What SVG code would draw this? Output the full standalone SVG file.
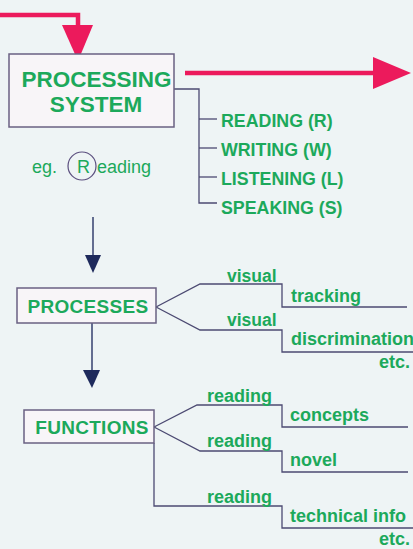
<svg xmlns="http://www.w3.org/2000/svg" width="413" height="549" viewBox="0 0 413 549">
<style>
.t{font-family:"Liberation Sans",Arial,sans-serif;font-weight:bold;fill:#1ca95b}
.n{font-family:"Liberation Sans",Arial,sans-serif;fill:#1ca95b}
.box{fill:#f8f5f8;stroke:#6a6082;stroke-width:1.5}
.ln{fill:none;stroke:#4c4a72;stroke-width:1.3}
.pk{fill:none;stroke:#ec1a5c;stroke-width:4.5}
.nv{fill:none;stroke:#34406e;stroke-width:1.5}
</style>
<rect width="413" height="549" fill="#eef4f5"/>
<g id="connectors">
  <polyline class="pk" points="0,15 78,15 78,27"/>
  <polygon points="62,25 93,25 78,61" fill="#ec1a5c"/>
  <line class="pk" x1="185" y1="73" x2="378" y2="73"/>
  <polygon points="373,57 411,73 373,89" fill="#ec1a5c"/>
  <polyline class="ln" points="174,89 199,89 199,203 217,203"/>
  <line class="ln" x1="199" y1="119" x2="217" y2="119"/>
  <line class="ln" x1="199" y1="148" x2="217" y2="148"/>
  <line class="ln" x1="199" y1="177" x2="217" y2="177"/>
  <line class="nv" x1="93" y1="217" x2="93" y2="258"/>
  <polygon points="85,255 101,255 93,273" fill="#1e2a5c"/>
  <line class="nv" x1="92" y1="323" x2="92" y2="372"/>
  <polygon points="83,370 100,370 92,388" fill="#1e2a5c"/>
  <polyline class="ln" points="156,307 200,284 282,284 282,307 407,307"/>
  <polyline class="ln" points="156,307 200,330 282,330 282,352 413,352"/>
  <polyline class="ln" points="154,427 197,405 282,405 282,427 408,427"/>
  <polyline class="ln" points="154,427 200,451 282,451 282,472 408,472"/>
  <polyline class="ln" points="154,443 154,506 282,506 282,528 413,528"/>
</g>
<g id="processing-system">
  <rect class="box" x="9" y="54" width="165" height="73"/>
  <text class="t" x="96.5" y="87" font-size="22.5" text-anchor="middle">PROCESSING</text>
  <text class="t" x="96" y="112" font-size="22.5" text-anchor="middle">SYSTEM</text>
</g>
<g id="skills">
  <text class="t" x="221" y="127" font-size="17.8">READING (R)</text>
  <text class="t" x="221" y="156" font-size="17.8">WRITING (W)</text>
  <text class="t" x="221" y="185" font-size="17.8">LISTENING (L)</text>
  <text class="t" x="221" y="214" font-size="17.8">SPEAKING (S)</text>
</g>
<g id="example">
  <text class="n" x="32" y="173" font-size="18">eg.</text>
  <circle cx="82" cy="166" r="14" fill="none" stroke="#5a4e7e" stroke-width="1.2"/>
  <text class="n" x="77" y="173" font-size="18">R</text>
  <text class="n" x="97" y="173" font-size="18">eading</text>
</g>
<g id="processes">
  <rect class="box" x="17" y="288" width="139" height="35"/>
  <text class="t" x="88" y="313" font-size="19" letter-spacing="0.3" text-anchor="middle">PROCESSES</text>
</g>
<g id="process-items">
  <text class="t" x="227" y="282" font-size="17.5">visual</text>
  <text class="t" x="291" y="302" font-size="18">tracking</text>
  <text class="t" x="227" y="326" font-size="17.5">visual</text>
  <text class="t" x="291" y="345" font-size="18">discrimination</text>
  <text class="t" x="379" y="368" font-size="18">etc.</text>
</g>
<g id="functions">
  <rect class="box" x="24" y="410" width="130" height="33"/>
  <text class="t" x="92" y="434" font-size="19" letter-spacing="0.3" text-anchor="middle">FUNCTIONS</text>
</g>
<g id="function-items">
  <text class="t" x="207" y="402" font-size="18">reading</text>
  <text class="t" x="290" y="421" font-size="18">concepts</text>
  <text class="t" x="207" y="447" font-size="18">reading</text>
  <text class="t" x="290" y="466" font-size="18">novel</text>
  <text class="t" x="207" y="503" font-size="18">reading</text>
  <text class="t" x="290" y="522" font-size="18">technical info</text>
  <text class="t" x="379" y="545" font-size="18">etc.</text>
</g>
</svg>
